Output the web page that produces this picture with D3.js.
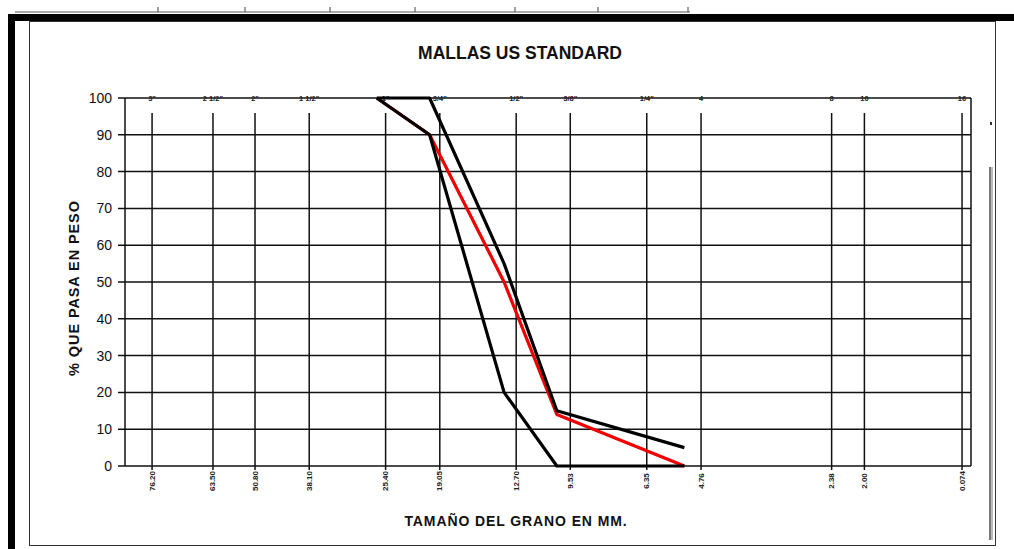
<!DOCTYPE html>
<html>
<head>
<meta charset="utf-8">
<script src="https://cdn.jsdelivr.net/npm/d3@7"></script>
<style>
  html, body { margin: 0; padding: 0; background: #fff; }
  svg { display: block; }
  text { font-family: "Liberation Sans", Arial, sans-serif; }
</style>
</head>
<body>
<svg id="chart" width="1014" height="549"></svg>
<script>
// Sieve grid (US standard meshes)
const sieveNames = ['3"', '2 1/2"', '2"', '1 1/2"', '1"', '3/4"', '1/2"', '3/8"', '1/4"', '4', '8', '10', '16'];
const sieveSizes = [76.2, 63.5, 50.8, 38.1, 25.4, 19.05, 12.7, 9.53, 6.35, 4.76, 2.38, 2.00, 0.074];
const sizeLabels = ['76.20', '63.50', '50.80', '38.10', '25.40', '19.05', '12.70', '9.53', '6.35', '4.76', '2.38', '2.00', '0.074'];
const yTicks = [0, 10, 20, 30, 40, 50, 60, 70, 80, 90, 100];

// Gradation curves (size in mm, % passing)
const curveSizes = [25.4, 19.05, 12.7, 9.53, 4.76];
const samplePassing = [100, 90, 50, 14, 0];
const upperLimit = [100, 100, 55, 15, 5];
const lowerLimit = [100, 90, 20, 0, 0];

const svg = d3.select('#chart');
const L = 125, R = 971, T = 98, B = 466;
const W = R - L;

// Template sieve scale: log spacing, with the end meshes placed at the borders
const xSieve = d3.scaleLog()
  .domain([76.2, 63.5, 2.0, 0.074])
  .range([L + 0.032 * W, L + 0.104 * W, L + 0.874 * W, L + 0.9894 * W]);

// Curve scale: logarithmic, 100 mm to 1 mm across the plot
const xCurve = d3.scaleLog().domain([100, 1]).range([L, R]);
const y = d3.scaleLinear().domain([0, 100]).range([B, T]);

// Page frame
const frame = svg.append('g');
frame.append('line').attr('x1', 15).attr('x2', 690).attr('y1', 12).attr('y2', 12)
  .attr('stroke', '#555').attr('stroke-width', 1);
[158, 245, 330, 415, 515, 598, 688].forEach(px => {
  frame.append('line').attr('x1', px).attr('x2', px).attr('y1', 7).attr('y2', 12)
    .attr('stroke', '#444').attr('stroke-width', 1);
});
frame.append('rect').attr('x', 8).attr('y', 14).attr('width', 1006).attr('height', 7).attr('fill', '#000');
frame.append('rect').attr('x', 8).attr('y', 14).attr('width', 7).attr('height', 535).attr('fill', '#000');
frame.append('rect').attr('x', 29.5).attr('y', 21.5).attr('width', 966).attr('height', 524)
  .attr('fill', 'none').attr('stroke', '#333').attr('stroke-width', 1);
frame.append('line').attr('x1', 990).attr('x2', 990).attr('y1', 167).attr('y2', 540)
  .attr('stroke', '#222').attr('stroke-width', 1.2);
frame.append('line').attr('x1', 992).attr('x2', 992).attr('y1', 167).attr('y2', 540)
  .attr('stroke', '#777').attr('stroke-width', 1);
frame.append('rect').attr('x', 990).attr('y', 122).attr('width', 2).attr('height', 3).attr('fill', '#333');

// Horizontal grid
const grid = svg.append('g');
grid.selectAll('line.h').data(yTicks).join('line')
  .attr('class', 'h')
  .attr('x1', L - 7).attr('x2', R)
  .attr('y1', d => y(d)).attr('y2', d => y(d))
  .attr('stroke', '#111').attr('stroke-width', 1.5);

// Vertical sieve lines
grid.selectAll('line.v').data(sieveSizes).join('line')
  .attr('class', 'v')
  .attr('x1', d => xSieve(d)).attr('x2', d => xSieve(d))
  .attr('y1', 113).attr('y2', B + 4)
  .attr('stroke', '#111').attr('stroke-width', 1.5);

// Plot borders
grid.append('line').attr('x1', L).attr('x2', L).attr('y1', T).attr('y2', B)
  .attr('stroke', '#111').attr('stroke-width', 1.5);
grid.append('line').attr('x1', R).attr('x2', R).attr('y1', T).attr('y2', B)
  .attr('stroke', '#111').attr('stroke-width', 1.5);

// Y tick labels
svg.append('g').selectAll('text').data(yTicks).join('text')
  .attr('x', 112).attr('y', d => y(d) + 5)
  .attr('text-anchor', 'end')
  .attr('font-size', 14).attr('fill', '#111')
  .text(d => d);

// Mesh names along the top
svg.append('g').selectAll('text').data(sieveSizes).join('text')
  .attr('x', d => xSieve(d)).attr('y', 101)
  .attr('text-anchor', 'middle')
  .attr('font-size', 7.5).attr('font-weight', 'bold').attr('fill', '#222')
  .text((d, i) => sieveNames[i]);

// Opening sizes along the bottom
svg.append('g').selectAll('text').data(sieveSizes).join('text')
  .attr('transform', d => `translate(${xSieve(d) + 2.5},481) rotate(-90)`)
  .attr('text-anchor', 'middle')
  .attr('font-size', 8).attr('font-weight', 'bold').attr('fill', '#222')
  .text((d, i) => sizeLabels[i]);

// Curves
const line = d3.line().x(d => xCurve(d[0])).y(d => y(d[1]));
const curves = [
  { values: samplePassing, color: '#f00000' },
  { values: upperLimit, color: '#000' },
  { values: lowerLimit, color: '#000' }
];
svg.append('g').selectAll('path').data(curves).join('path')
  .attr('d', c => line(curveSizes.map((s, i) => [s, c.values[i]])))
  .attr('fill', 'none')
  .attr('stroke', c => c.color)
  .attr('stroke-width', 3.2)
  .attr('stroke-linejoin', 'round');

// Titles
svg.append('text').attr('x', 520).attr('y', 59)
  .attr('text-anchor', 'middle').attr('font-size', 17.5).attr('font-weight', 'bold').attr('fill', '#111')
  .text('MALLAS US STANDARD');
svg.append('text').attr('x', 516).attr('y', 526)
  .attr('text-anchor', 'middle').attr('font-size', 14).attr('font-weight', 'bold')
  .attr('letter-spacing', 0.9).attr('fill', '#111')
  .text('TAMAÑO DEL GRANO EN MM.');
svg.append('text').attr('transform', 'translate(79,288) rotate(-90)')
  .attr('text-anchor', 'middle').attr('font-size', 14.5).attr('font-weight', 'bold')
  .attr('letter-spacing', 0.9).attr('fill', '#111')
  .text('% QUE PASA EN PESO');
</script>
</body>
</html>
